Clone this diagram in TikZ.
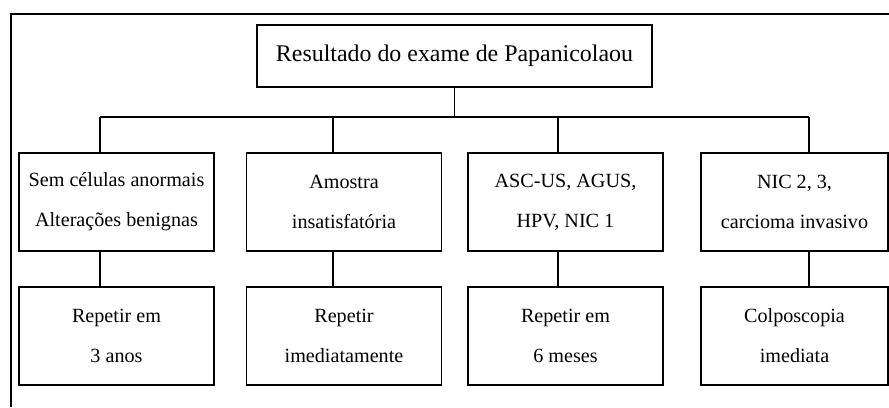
\documentclass[tikz,border=0pt]{standalone}
\usepackage{fontspec}
\setmainfont{Liberation Serif}
\tikzset{
    box/.style={draw, line width=1.1pt, align=center, inner sep=0pt, outer sep=0pt,
        minimum width=5.85cm, minimum height=2.94cm, font=\fontsize{17.2}{34}\selectfont},
    link/.style={line width=1.1pt},
}
\begin{document}
\begin{tikzpicture}[x=0.03cm, y=-0.03cm]
            \useasboundingbox (0, 0) rectangle (889, 407);
            \draw[line width=1.4pt] (889, 14) -- (11, 14) -- (11, 407);

            \node[box, minimum width=11.85cm, minimum height=1.86cm, font=\fontsize{20.4}{22}\selectfont] (res) at (454.5, 56) {Resultado do exame de Papanicolaou};

            \node[box] (sem) at (116.5, 202) {Sem células anormais\\Alterações benignas};
            \node[box] (amo) at (344, 202) {Amostra\\insatisfatória};
            \node[box] (asc) at (565.5, 202) {ASC-US, AGUS,\\HPV, NIC 1};
            \node[box, minimum width=5.61cm] (nic) at (794.5, 202) {NIC 2, 3,\\carcioma invasivo};

            \node[box] (rep3) at (116.5, 336) {Repetir em\\3 anos};
            \node[box] (repi) at (344, 336) {Repetir\\imediatamente};
            \node[box] (rep6) at (565.5, 336) {Repetir em\\6 meses};
            \node[box, minimum width=5.61cm] (col) at (794.5, 336) {Colposcopia\\imediata};

            \coordinate (b1) at (100, 117);
            \coordinate (b2) at (333, 117);
            \coordinate (b3) at (558, 117);
            \coordinate (b4) at (809, 117);

            \draw[link] (res.south) -- (res.south |- b1);
            \draw[link] (b1) -- (b4);
            \draw[link] (b1) -- (b1 |- sem.north);
            \draw[link] (b2) -- (b2 |- amo.north);
            \draw[link] (b3) -- (b3 |- asc.north);
            \draw[link] (b4) -- (b4 |- nic.north);

            \draw[link] (b1 |- sem.south) -- (b1 |- rep3.north);
            \draw[link] (b2 |- amo.south) -- (b2 |- repi.north);
            \draw[link] (b3 |- asc.south) -- (b3 |- rep6.north);
            \draw[link] (b4 |- nic.south) -- (b4 |- col.north);
        \end{tikzpicture}
\end{document}
